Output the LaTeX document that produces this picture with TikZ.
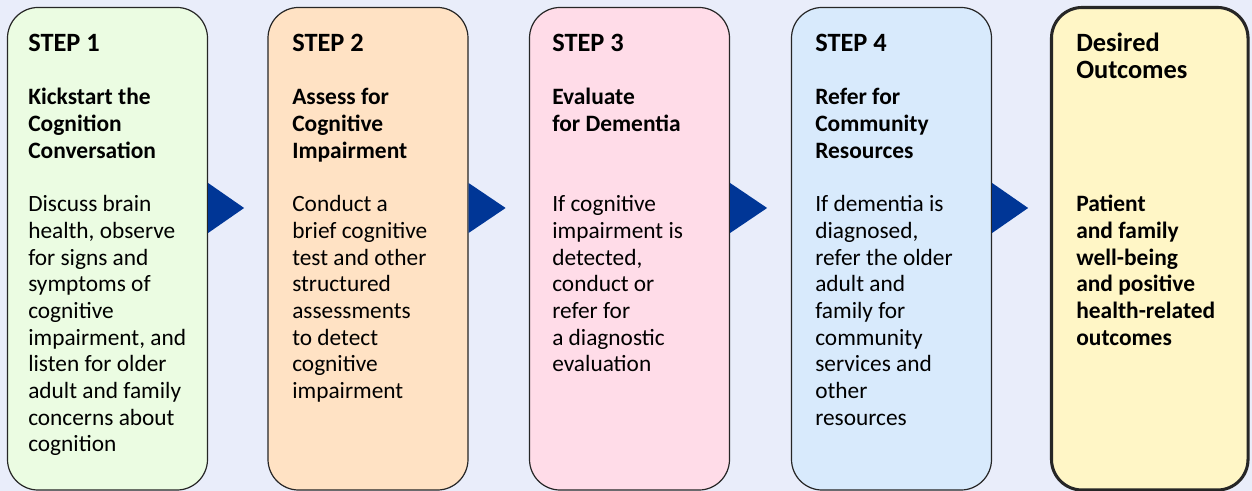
\documentclass[tikz,border=0pt]{standalone}
\usepackage{fontspec}
\setmainfont{Carlito}
\definecolor{bgc}{RGB}{233,237,250}
\definecolor{c1}{RGB}{235,252,226}
\definecolor{c2}{RGB}{255,226,196}
\definecolor{c3}{RGB}{255,220,232}
\definecolor{c4}{RGB}{216,234,252}
\definecolor{c5}{RGB}{255,246,198}
\definecolor{arrowc}{RGB}{0,54,150}
\newcommand{\mylines}[1]{\begin{tabular}[t]{@{}l@{}}#1\end{tabular}}
\begin{document}
\begin{tikzpicture}[x=0.75pt,y=-0.75pt,
  box/.style={draw=black!85, line width=0.9pt, rounded corners=23pt, inner sep=0pt,
    minimum width=150pt, minimum height=361.9pt},
  headtxt/.style={anchor=base west, inner sep=0pt, font=\fontsize{19.8}{20.25}\selectfont\bfseries},
  titletxt/.style={anchor=base west, inner sep=0pt, font=\fontsize{17.6}{20}\selectfont\bfseries},
  bodytxt/.style={anchor=base west, inner sep=0pt, font=\fontsize{17.5}{20}\selectfont},
  tri/.style={fill=arrowc}]
\useasboundingbox (0,0) rectangle (1252,491);
\fill[bgc] (0,0) rectangle (1252,491);
\coordinate (mid) at (0,208);
% boxes
\node[box, fill=c1] (b1) at (107.5,248.75) {};
\node[box, fill=c2] (b2) at (368,248.75) {};
\node[box, fill=c3] (b3) at (629.5,248.75) {};
\node[box, fill=c4] (b4) at (891.5,248.75) {};
\node[box, fill=c5, line width=2.3pt, minimum width=147.4pt] (b5) at (1149.75,248.75) {};
% arrows
\fill[tri] (b1.east |- mid) ++(0,-25) -- ++(36,25) -- ++(-36,25) -- cycle;
\fill[tri] (b2.east |- mid) ++(0,-25) -- ++(37,25) -- ++(-37,25) -- cycle;
\fill[tri] (b3.east |- mid) ++(0,-25) -- ++(37,25) -- ++(-37,25) -- cycle;
\fill[tri] (b4.east |- mid) ++(0,-25) -- ++(36,25) -- ++(-36,25) -- cycle;
% box 1
\node[headtxt] (h1) at (28,52) {STEP 1};
\node[titletxt] (t1) at (28,105) {\mylines{Kickstart the\\Cognition\\Conversation}};
\node[bodytxt] (x1) at (28,212) {\mylines{Discuss brain\\health, observe\\for signs and\\symptoms of\\cognitive\\impairment, and\\listen for older\\adult and family\\concerns about\\cognition}};
% box 2
\node[headtxt] (h2) at (292,52) {STEP 2};
\node[titletxt] (t2) at (292,105) {\mylines{Assess for\\Cognitive\\Impairment}};
\node[bodytxt] (x2) at (292,212) {\mylines{Conduct a\\brief cognitive\\test and other\\structured\\assessments\\to detect\\cognitive\\impairment}};
% box 3
\node[headtxt] (h3) at (552,52) {STEP 3};
\node[titletxt] (t3) at (552,105) {\mylines{Evaluate\\for Dementia}};
\node[bodytxt] (x3) at (552,212) {\mylines{If cognitive\\impairment is\\detected,\\conduct or\\refer for\\a diagnostic\\evaluation}};
% box 4
\node[headtxt] (h4) at (815,52) {STEP 4};
\node[titletxt] (t4) at (815,105) {\mylines{Refer for\\Community\\Resources}};
\node[bodytxt] (x4) at (815,212) {\mylines{If dementia is\\diagnosed,\\refer the older\\adult and\\family for\\community\\services and\\other\\resources}};
% box 5
\node[headtxt] (h5) at (1076,52) {\mylines{Desired\\Outcomes}};
\node[titletxt] (x5) at (1076,212) {\mylines{Patient\\and family\\well-being\\and positive\\health-related\\outcomes}};
\end{tikzpicture}
\end{document}
